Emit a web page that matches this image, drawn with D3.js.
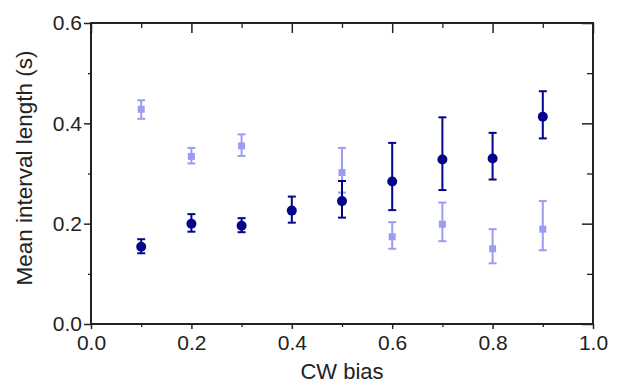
<!DOCTYPE html>
<html><head><meta charset="utf-8">
<script src="https://cdn.jsdelivr.net/npm/d3@7"></script>
<style>
body{margin:0;background:#fff;}
svg text{font-family:"Liberation Sans",Arial,sans-serif;}
</style></head>
<body>
<svg id="c" width="619" height="385"></svg>
<script>
const xMajor = [0.0, 0.2, 0.4, 0.6, 0.8, 1.0];
const xMinor = [0.1, 0.3, 0.5, 0.7, 0.9];
const yMajor = [0.0, 0.2, 0.4, 0.6];
const yMinor = [0.1, 0.3, 0.5];

const darkX    = [0.1, 0.2, 0.3, 0.4, 0.5, 0.6, 0.7, 0.8, 0.9];
const darkMean = [0.154, 0.200, 0.196, 0.226, 0.245, 0.284, 0.328, 0.330, 0.413];
const darkLow  = [0.141, 0.184, 0.183, 0.202, 0.212, 0.227, 0.267, 0.288, 0.370];
const darkHigh = [0.169, 0.219, 0.211, 0.254, 0.285, 0.361, 0.412, 0.381, 0.464];

const lightX    = [0.1, 0.2, 0.3, 0.5, 0.6, 0.7, 0.8, 0.9];
const lightMean = [0.428, 0.334, 0.355, 0.302, 0.174, 0.199, 0.150, 0.189];
const lightLow  = [0.409, 0.320, 0.335, 0.262, 0.150, 0.165, 0.121, 0.147];
const lightHigh = [0.446, 0.351, 0.378, 0.351, 0.203, 0.242, 0.189, 0.245];

const xTitle = "CW bias";
const yTitle = "Mean interval length (s)";

const L = 91, R = 593, T = 23, B = 324;
const svg = d3.select("#c");
const x = d3.scaleLinear().domain([0, 1]).range([L, R]);
const y = d3.scaleLinear().domain([0, 0.6]).range([B, T]);
const fmt = d3.format(".1f");
const axisColor = "#222";

function styleAxis(g, width) {
  g.select(".domain").remove();
  g.selectAll(".tick line").attr("stroke", axisColor).attr("stroke-width", width);
  g.selectAll(".tick text").attr("fill", "#222").style("font-size", "21px");
}

// bottom
svg.append("g").attr("transform", `translate(0,${B})`)
  .call(d3.axisBottom(x).tickValues(xMajor).tickSize(5).tickPadding(6).tickFormat(fmt))
  .call(g => styleAxis(g, 1.5));
svg.append("g").attr("transform", `translate(0,${B})`)
  .call(d3.axisBottom(x).tickValues(xMinor).tickSize(3).tickFormat(""))
  .call(g => styleAxis(g, 1.3));
// top (inward)
svg.append("g").attr("transform", `translate(0,${T})`)
  .call(d3.axisTop(x).tickValues(xMajor).tickSize(-10).tickFormat(""))
  .call(g => styleAxis(g, 1.5));
svg.append("g").attr("transform", `translate(0,${T})`)
  .call(d3.axisTop(x).tickValues(xMinor).tickSize(-5).tickFormat(""))
  .call(g => styleAxis(g, 1.3));
// left
svg.append("g").attr("transform", `translate(${L},0)`)
  .call(d3.axisLeft(y).tickValues(yMajor).tickSize(7).tickPadding(2).tickFormat(fmt))
  .call(g => styleAxis(g, 1.5));
svg.append("g").attr("transform", `translate(${L},0)`)
  .call(d3.axisLeft(y).tickValues(yMinor).tickSize(3).tickFormat(""))
  .call(g => styleAxis(g, 1.3));
// right (inward)
svg.append("g").attr("transform", `translate(${R},0)`)
  .call(d3.axisRight(y).tickValues(yMajor).tickSize(-11).tickFormat(""))
  .call(g => styleAxis(g, 1.5));
svg.append("g").attr("transform", `translate(${R},0)`)
  .call(d3.axisRight(y).tickValues(yMinor).tickSize(-6).tickFormat(""))
  .call(g => styleAxis(g, 1.3));

// frame
svg.append("rect").attr("x", L).attr("y", T).attr("width", R - L).attr("height", B - T)
  .attr("fill", "none").attr("stroke", axisColor).attr("stroke-width", 2);

// titles
svg.append("text").attr("x", (L + R) / 2).attr("y", 379).attr("text-anchor", "middle")
  .style("font-size", "22px").attr("fill", "#222").text(xTitle);
svg.append("text").attr("transform", `translate(32,168) rotate(-90)`).attr("text-anchor", "middle")
  .style("font-size", "22.5px").attr("fill", "#222").text(yTitle);

function series(xs, mean, lo, hi, color, shape) {
  const g = svg.append("g");
  const d = xs.map((v, i) => ({x: v, m: mean[i], lo: lo[i], hi: hi[i]}));
  g.selectAll("line.bar").data(d).join("line")
    .attr("x1", p => x(p.x)).attr("x2", p => x(p.x))
    .attr("y1", p => y(p.lo)).attr("y2", p => y(p.hi))
    .attr("stroke", color).attr("stroke-width", 2);
  ["lo", "hi"].forEach(k => {
    g.selectAll("line.cap" + k).data(d).join("line")
      .attr("x1", p => x(p.x) - 4).attr("x2", p => x(p.x) + 4)
      .attr("y1", p => y(p[k])).attr("y2", p => y(p[k]))
      .attr("stroke", color).attr("stroke-width", 2);
  });
  if (shape === "circle") {
    g.selectAll("circle").data(d).join("circle")
      .attr("cx", p => x(p.x)).attr("cy", p => y(p.m)).attr("r", 5).attr("fill", color);
  } else {
    g.selectAll("rect").data(d).join("rect")
      .attr("x", p => x(p.x) - 3.5).attr("y", p => y(p.m) - 3.5)
      .attr("width", 7).attr("height", 7).attr("fill", color);
  }
}
series(lightX, lightMean, lightLow, lightHigh, "#9c9cf0", "square");
series(darkX, darkMean, darkLow, darkHigh, "#05058c", "circle");
</script>
</body></html>
